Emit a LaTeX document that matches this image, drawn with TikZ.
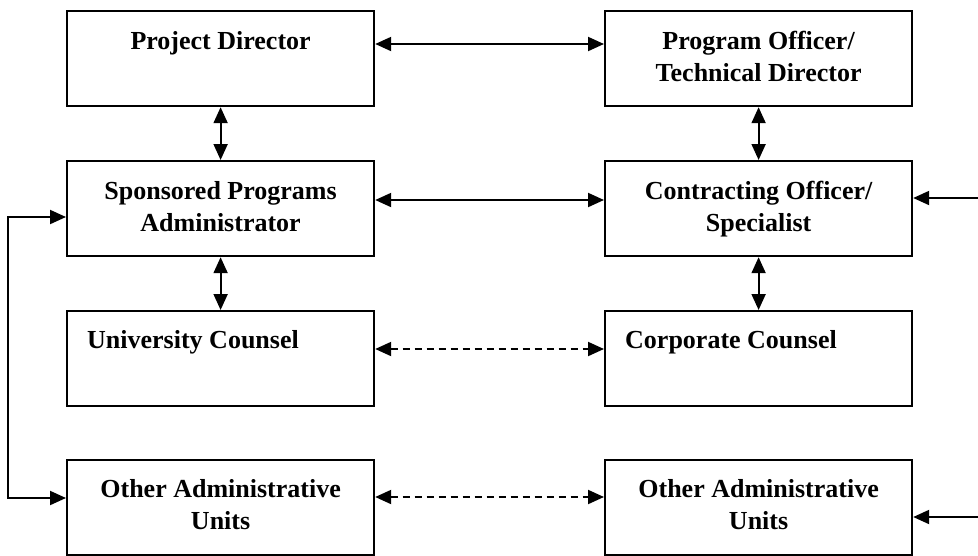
\documentclass[tikz,border=0pt]{standalone}
\usepackage{fontspec}
\setmainfont{Liberation Serif}
\usetikzlibrary{arrows.meta,calc}
\begin{document}
\begin{tikzpicture}[x=1pt,y=-1pt,
  box/.style={draw=black, line width=2.2pt, fill=white, rectangle, inner sep=0pt,
              minimum width=307pt, minimum height=95pt, anchor=north west},
  lbl/.style={font=\fontsize{26}{32}\selectfont\bfseries, align=center, inner sep=0pt, anchor=north},
  lbll/.style={font=\fontsize{26}{32}\selectfont\bfseries, align=left, inner sep=0pt, anchor=north west},
  tip/.style={Triangle[length=16pt,width=14pt]},
  link/.style={line width=2pt, {Triangle[length=16pt,width=14pt]}-{Triangle[length=16pt,width=14pt]}},
  dlink/.style={link, dash pattern=on 7pt off 5pt},
  feed/.style={line width=2pt, -{Triangle[length=16pt,width=14pt]}}]
\useasboundingbox (0,0) rectangle (978,555);

% boxes, left column (university side) and right column (sponsor side)
\node[box] (pd)  at (66,10)  {};
\node[box] (spa) at (66,160) {};
\node[box] (uc)  at (66,310) {};
\node[box] (oua) at (66,459) {};
\node[box] (po)  at (604,10)  {};
\node[box] (co)  at (604,160) {};
\node[box] (cc)  at (604,310) {};
\node[box] (oub) at (604,459) {};

% box titles
\node[lbl] (pdt)  at ($(pd.north)+(0,21)$)  {Project Director};
\node[lbl] (spat) at ($(spa.north)+(0,21)$) {Sponsored Programs\\Administrator};
\node[lbll] (uct) at ($(uc.north west)+(21,20)$) {University Counsel};
\node[lbl] (ouat) at ($(oua.north)+(0,20)$) {Other Administrative\\Units};
\node[lbl] (pot)  at ($(po.north)+(0,21)$)  {Program Officer/\\Technical Director};
\node[lbl] (cot)  at ($(co.north)+(0,21)$)  {Contracting Officer/\\Specialist};
\node[lbll] (cct) at ($(cc.north west)+(21,20)$) {Corporate Counsel};
\node[lbl] (oubt) at ($(oub.north)+(0,20)$) {Other Administrative\\Units};

% horizontal links between the two sides
\draw[link]  ([yshift=-34pt]pd.north east)  -- ([yshift=-34pt]po.north west);
\draw[link]  ([yshift=-40pt]spa.north east) -- ([yshift=-40pt]co.north west);
\draw[dlink] ([yshift=-39pt]uc.north east)  -- ([yshift=-39pt]cc.north west);
\draw[dlink] ([yshift=-38pt]oua.north east) -- ([yshift=-38pt]oub.north west);

% vertical links within each side
\draw[link] (pd.south) -- (spa.north);
\draw[link] (spa.south) -- (uc.north);
\draw[link] (po.south) -- (co.north);
\draw[link] (co.south) -- (cc.north);

% bus on the left joining the administrator and the other units
\coordinate (bus) at (8,300);
\coordinate (spain) at ([yshift=-57pt]spa.north west);
\coordinate (ouain) at ([yshift=-39pt]oua.north west);
\draw[link] (spain) -- (spain -| bus) -- (ouain -| bus) -- (ouain);

% incoming lines on the right edge
\coordinate (rin1) at (978,198);
\coordinate (rin2) at (978,517);
\draw[feed] (rin1) -- (rin1 -| co.east);
\draw[feed] (rin2) -- (rin2 -| oub.east);
\end{tikzpicture}
\end{document}
